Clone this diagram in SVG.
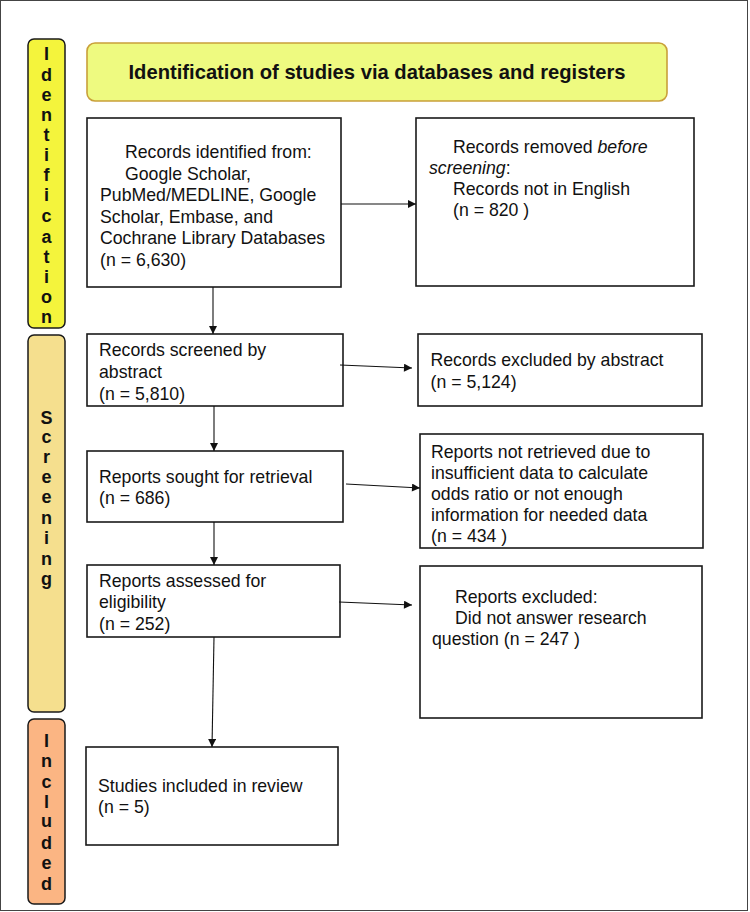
<svg xmlns="http://www.w3.org/2000/svg" width="750" height="912" viewBox="0 0 750 912">
<style>
.box{fill:#fff;stroke:#1a1a1a;stroke-width:1.6}
.t{font-family:"Liberation Sans",Arial,sans-serif;font-size:17.7px;fill:#111}
.side{font-family:"Liberation Sans",Arial,sans-serif;font-size:18px;font-weight:bold;fill:#111;text-anchor:middle}
.bar{stroke:#1a1a1a;stroke-width:1.5}
.c{stroke:#111;stroke-width:1.1;fill:none;marker-end:url(#ah)}
</style>
<defs>
<marker id="ah" viewBox="0 0 10 10" refX="10" refY="5" markerWidth="10" markerHeight="8" markerUnits="userSpaceOnUse" orient="auto">
<path d="M0,0 L10,5 L0,10 z" fill="#111"/>
</marker>
</defs>
<rect x="0.5" y="0.5" width="747" height="910" fill="#fff" stroke="#444" stroke-width="1"/>

<g id="side-identification">
<rect class="bar" x="28" y="39" width="37" height="289" rx="6" fill="#f4f43c"/>
<text class="side"><tspan x="46.5" y="60">I</tspan><tspan x="46.5" y="81">d</tspan><tspan x="46.5" y="101">e</tspan><tspan x="46.5" y="121">n</tspan><tspan x="46.5" y="141">t</tspan><tspan x="46.5" y="161">i</tspan><tspan x="46.5" y="181">f</tspan><tspan x="46.5" y="201">i</tspan><tspan x="46.5" y="222">c</tspan><tspan x="46.5" y="243">a</tspan><tspan x="46.5" y="263">t</tspan><tspan x="46.5" y="283">i</tspan><tspan x="46.5" y="303">o</tspan><tspan x="46.5" y="323">n</tspan></text>
</g>
<g id="side-screening">
<rect class="bar" x="28" y="335" width="37" height="377" rx="6" fill="#f5df8e"/>
<text class="side"><tspan x="46.5" y="424">S</tspan><tspan x="46.5" y="443">c</tspan><tspan x="46.5" y="463">r</tspan><tspan x="46.5" y="483">e</tspan><tspan x="46.5" y="503">e</tspan><tspan x="46.5" y="524">n</tspan><tspan x="46.5" y="544">i</tspan><tspan x="46.5" y="565">n</tspan><tspan x="46.5" y="585">g</tspan></text>
</g>
<g id="side-included">
<rect class="bar" x="28" y="719" width="37" height="185" rx="6" fill="#fbb583"/>
<text class="side"><tspan x="46.5" y="747">I</tspan><tspan x="46.5" y="767">n</tspan><tspan x="46.5" y="788">c</tspan><tspan x="46.5" y="808">l</tspan><tspan x="46.5" y="827">u</tspan><tspan x="46.5" y="849">d</tspan><tspan x="46.5" y="869">e</tspan><tspan x="46.5" y="890">d</tspan></text>
</g>

<g id="title">
<rect x="87" y="43" width="580" height="58" rx="8" fill="#eefa80" stroke="#c9a03a" stroke-width="1.6"/>
<text x="377" y="79" text-anchor="middle" font-family="'Liberation Sans',Arial,sans-serif" font-size="20.2" font-weight="bold" fill="#111">Identification of studies via databases and registers</text>
</g>

<g id="records-identified">
<rect class="box" x="87" y="118" width="254" height="169"/>
<text class="t"><tspan x="125" y="158">Records identified from:</tspan><tspan x="125" y="179.5">Google Scholar,</tspan><tspan x="100" y="201">PubMed/MEDLINE, Google</tspan><tspan x="100" y="222.5">Scholar, Embase, and</tspan><tspan x="100" y="244">Cochrane Library Databases</tspan><tspan x="100" y="265.5">(n = 6,630)</tspan></text>
</g>
<g id="records-removed">
<rect class="box" x="416" y="118" width="278" height="168"/>
<text class="t"><tspan x="453" y="153">Records removed <tspan font-style="italic">before</tspan></tspan><tspan x="429" y="174"><tspan font-style="italic">screening</tspan>:</tspan><tspan x="453" y="195">Records not in English</tspan><tspan x="453" y="216">(n = 820 )</tspan></text>
</g>
<g id="records-screened">
<rect class="box" x="87" y="334" width="256" height="72"/>
<text class="t"><tspan x="99" y="356">Records screened by</tspan><tspan x="99" y="378">abstract</tspan><tspan x="99" y="400">(n = 5,810)</tspan></text>
</g>
<g id="records-excluded">
<rect class="box" x="418" y="334" width="284" height="72"/>
<text class="t"><tspan x="430.5" y="366">Records excluded by abstract</tspan><tspan x="430.5" y="388">(n = 5,124)</tspan></text>
</g>
<g id="reports-sought">
<rect class="box" x="87" y="451" width="256" height="71"/>
<text class="t"><tspan x="99" y="483">Reports sought for retrieval</tspan><tspan x="99" y="504">(n = 686)</tspan></text>
</g>
<g id="reports-not-retrieved">
<rect class="box" x="420" y="434" width="283" height="114"/>
<text class="t"><tspan x="431" y="457.5">Reports not retrieved due to</tspan><tspan x="431" y="479">insufficient data to calculate</tspan><tspan x="431" y="500">odds ratio or not enough</tspan><tspan x="431" y="521">information for needed data</tspan><tspan x="431" y="542">(n = 434 )</tspan></text>
</g>
<g id="reports-assessed">
<rect class="box" x="87" y="565" width="253" height="72"/>
<text class="t"><tspan x="99" y="587">Reports assessed for</tspan><tspan x="99" y="608">eligibility</tspan><tspan x="99" y="630">(n = 252)</tspan></text>
</g>
<g id="reports-excluded">
<rect class="box" x="420" y="566" width="282" height="152"/>
<text class="t"><tspan x="455" y="603">Reports excluded:</tspan><tspan x="455" y="624">Did not answer research</tspan><tspan x="432" y="645">question (n = 247 )</tspan></text>
</g>
<g id="studies-included">
<rect class="box" x="86" y="747" width="252" height="98"/>
<text class="t"><tspan x="98" y="792">Studies included in review</tspan><tspan x="98" y="813">(n = 5)</tspan></text>
</g>

<g id="connectors">
<path class="c" d="M341,204 L416,204"/>
<path class="c" d="M213,287 L213,334"/>
<path class="c" d="M340,365 L412,368"/>
<path class="c" d="M214,406 L214,451"/>
<path class="c" d="M346,484 L420,488"/>
<path class="c" d="M214,522 L214,565"/>
<path class="c" d="M339,602 L412,605"/>
<path class="c" d="M214,637 L212,747"/>
</g>
</svg>
